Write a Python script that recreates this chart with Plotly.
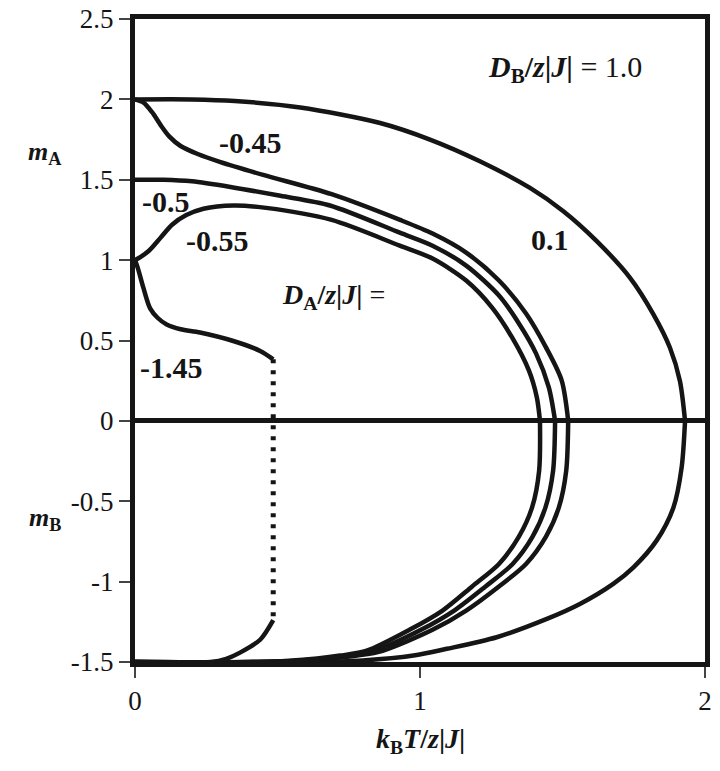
import plotly.graph_objects as go

# magnetizations m_A (upper branch) and m_B (lower branch) vs reduced temperature k_B T / z|J|
# D_A/z|J| = 0.1
t_01_a = [0.0, 0.2, 0.35, 0.58, 0.86, 1.035, 1.21, 1.386, 1.503, 1.62, 1.737, 1.819, 1.877, 1.912, 1.93]
m_01_a = [2.0, 2.0, 1.99, 1.95, 1.853, 1.75, 1.615, 1.449, 1.304, 1.118, 0.89, 0.663, 0.455, 0.248, 0.0]
t_01_b = [1.93, 1.918, 1.889, 1.83, 1.749, 1.678, 1.561, 1.445, 1.269, 1.094, 0.977, 0.8, 0.6, 0.0]
m_01_b = [0.0, -0.29, -0.54, -0.745, -0.911, -1.014, -1.139, -1.232, -1.346, -1.418, -1.46, -1.49, -1.5, -1.5]

# D_A/z|J| = -0.45
t_045_a = [0.0, 0.03, 0.06, 0.09, 0.12, 0.16, 0.22, 0.30, 0.45, 0.69, 0.93, 1.044, 1.162, 1.277, 1.372, 1.442, 1.497, 1.52]
m_045_a = [2.0, 1.98, 1.92, 1.84, 1.77, 1.71, 1.66, 1.61, 1.53, 1.41, 1.25, 1.165, 1.047, 0.873, 0.668, 0.457, 0.252, 0.0]
t_045_b = [1.52, 1.513, 1.487, 1.442, 1.372, 1.277, 1.162, 1.044, 0.869, 0.78, 0.695, 0.60, 0.45, 0.0]
m_045_b = [0.0, -0.31, -0.54, -0.72, -0.89, -1.03, -1.18, -1.30, -1.43, -1.46, -1.478, -1.492, -1.5, -1.5]

# D_A/z|J| = -0.5
t_05_a = [0.0, 0.1, 0.2, 0.335, 0.51, 0.684, 0.929, 1.044, 1.162, 1.277, 1.347, 1.407, 1.452, 1.474]
m_05_a = [1.5, 1.5, 1.49, 1.455, 1.40, 1.34, 1.171, 1.09, 0.966, 0.78, 0.606, 0.42, 0.208, 0.0]
t_05_b = [1.474, 1.467, 1.44, 1.395, 1.325, 1.23, 1.12, 1.0035, 0.841, 0.75, 0.667, 0.57, 0.42, 0.0]
m_05_b = [0.0, -0.31, -0.54, -0.72, -0.89, -1.03, -1.18, -1.30, -1.43, -1.46, -1.478, -1.492, -1.5, -1.5]

# D_A/z|J| = -0.55
t_055_a = [0.0, 0.02, 0.05, 0.09, 0.13, 0.18, 0.24, 0.346, 0.46, 0.69, 0.929, 1.044, 1.162, 1.253, 1.323, 1.382, 1.41, 1.421]
m_055_a = [1.0, 1.02, 1.06, 1.14, 1.22, 1.28, 1.32, 1.34, 1.325, 1.25, 1.09, 1.01, 0.873, 0.705, 0.519, 0.314, 0.146, 0.0]
t_055_b = [1.421, 1.418, 1.393, 1.347, 1.277, 1.183, 1.079, 0.963, 0.813, 0.72, 0.639, 0.54, 0.40, 0.0]
m_055_b = [0.0, -0.31, -0.54, -0.72, -0.89, -1.03, -1.18, -1.30, -1.43, -1.46, -1.478, -1.492, -1.5, -1.5]

# D_A/z|J| = -1.45 (first-order jump at t_jump)
t_145_a = [0.0, 0.01, 0.029, 0.053, 0.08, 0.111, 0.16, 0.228, 0.345, 0.439, 0.485]
m_145_a = [1.0, 0.95, 0.83, 0.70, 0.64, 0.60, 0.57, 0.55, 0.497, 0.435, 0.383]
t_145_b = [0.0, 0.265, 0.32, 0.37, 0.44, 0.485]
m_145_b = [-1.5, -1.5, -1.48, -1.44, -1.36, -1.24]
t_jump = [0.485, 0.485]
m_jump = [0.383, -1.24]

SERIF = "Liberation Serif"
INK = "#151515"

fig = go.Figure()

curves = [
    (t_01_a, m_01_a), (t_01_b, m_01_b),
    (t_045_a, m_045_a), (t_045_b, m_045_b),
    (t_05_a, m_05_a), (t_05_b, m_05_b),
    (t_055_a, m_055_a), (t_055_b, m_055_b),
    (t_145_a, m_145_a), (t_145_b, m_145_b),
]
for tx, my in curves:
    fig.add_trace(go.Scatter(
        x=tx, y=my, mode="lines",
        line=dict(color=INK, width=4.5, shape="spline", smoothing=0.8),
        showlegend=False, hoverinfo="skip"
    ))

# dotted jump of the -1.45 curve
fig.add_trace(go.Scatter(
    x=t_jump, y=m_jump, mode="lines",
    line=dict(color=INK, width=5, dash="4px,7px"),
    showlegend=False, hoverinfo="skip"
))

def note(text, x, y, size=30, xref="x", yref="y"):
    fig.add_annotation(text=text, x=x, y=y, xref=xref, yref=yref, showarrow=False,
                       xanchor="center", yanchor="middle",
                       font=dict(family=SERIF, size=size, color=INK))

note("<b>-0.45</b>", 0.404, 1.733)
note("<b>-0.5</b>", 0.109, 1.366)
note("<b>-0.55</b>", 0.29, 1.125)
note("<b>-1.45</b>", 0.127, 0.335)
note("<b>0.1</b>", 1.456, 1.13)
note("<b><i>D</i><sub>A</sub>/<i>z</i>|<i>J</i>|</b> =", 0.696, 0.776, size=28)
note("<b><i>D</i><sub>B</sub>/<i>z</i>|<i>J</i>|</b> = 1.0", 1.509, 2.186, size=30)
note("<b><i>m</i><sub>A</sub></b>", -0.158, 1.665, size=26, xref="paper")
note("<b><i>m</i><sub>B</sub></b>", -0.158, -0.609, size=26, xref="paper")
note("<b><i>k</i><sub>B</sub><i>T</i>/<i>z</i>|<i>J</i>|</b>", 0.5, -0.122, size=28,
     xref="paper", yref="paper")

axis_common = dict(
    showgrid=False, showline=True, mirror=True, linecolor=INK, linewidth=5,
    ticks="outside", ticklen=11, tickwidth=1.5, tickcolor="#444",
    tickfont=dict(family=SERIF, size=27, color=INK), automargin=False,
    ticklabeloverflow="allow",
)

fig.update_xaxes(range=[0, 2], tickvals=[0, 1, 2], zeroline=False, **axis_common)
fig.update_yaxes(range=[-1.5, 2.5], tickvals=[-1.5, -1, -0.5, 0, 0.5, 1, 1.5, 2, 2.5],
                 ticktext=["-1.5", "-1", "-0.5", "0", "0.5", "1", "1.5", "2", "2.5"],
                 zeroline=True, zerolinecolor=INK, zerolinewidth=5, **axis_common)

# page body keeps a default 8px margin, so the figure is 8px smaller on each side
fig.update_layout(
    width=712, height=763,
    margin=dict(l=127, r=15, t=11, b=109),
    plot_bgcolor="white", paper_bgcolor="white",
)

fig.write_html("out.html")
